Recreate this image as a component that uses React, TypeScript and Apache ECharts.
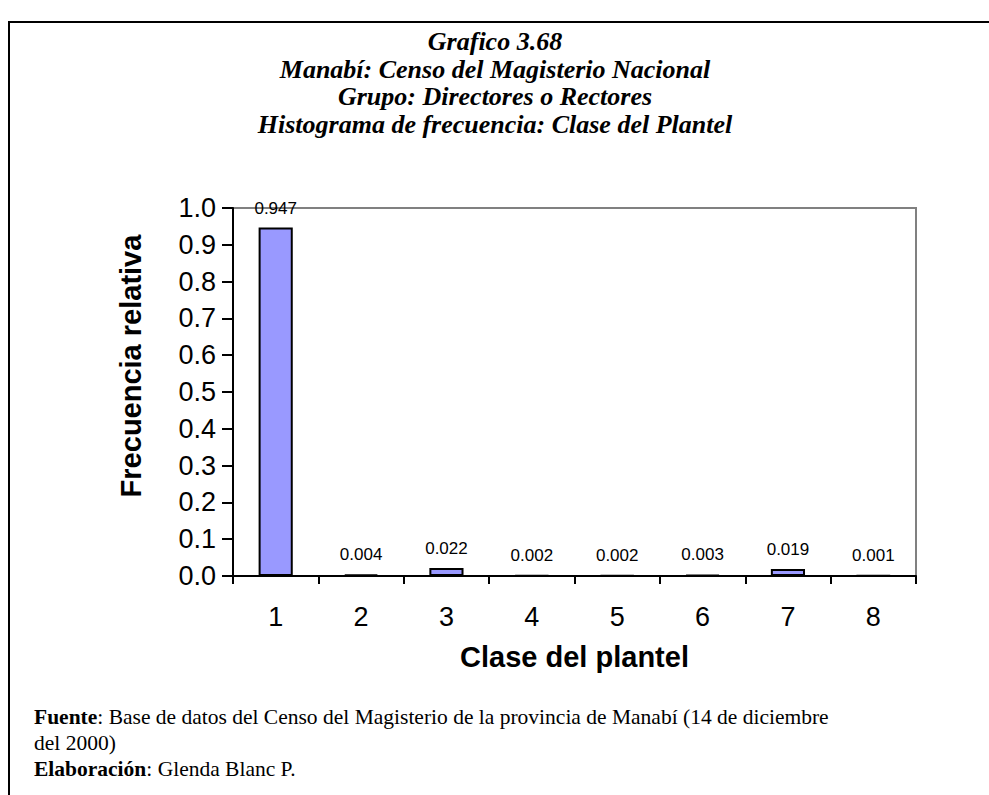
import React, { useEffect, useRef } from "react";
import * as echarts from "echarts";

const categories = ["1", "2", "3", "4", "5", "6", "7", "8"];
const values = [0.947, 0.004, 0.022, 0.002, 0.002, 0.003, 0.019, 0.001];
const titleLines = [
  "Grafico 3.68",
  "Manabí: Censo del Magisterio Nacional",
  "Grupo: Directores o Rectores",
  "Histograma de frecuencia: Clase del Plantel",
];
const yAxisTitle = "Frecuencia relativa";
const xAxisTitle = "Clase del plantel";

export default function App() {
  const ref = useRef<HTMLDivElement>(null);
  useEffect(() => {
    document.body.style.margin = "0";
    const chart = echarts.init(ref.current!, null, { renderer: "svg" });
    chart.setOption({
      animation: false,
      backgroundColor: "#fff",
      title: {
        text: titleLines.join("\n"),
        left: 490,
        textAlign: "center",
        top: 23,
        textStyle: {
          fontFamily: "Liberation Serif",
          fontStyle: "italic",
          fontWeight: "bold",
          fontSize: 26,
          lineHeight: 27.5,
          color: "#000",
        },
      },
      grid: {
        left: 233,
        right: 73,
        top: 208,
        bottom: 219,
        show: true,
        borderColor: "#808080",
        borderWidth: 2,
      },
      xAxis: {
        type: "category",
        data: categories,
        name: xAxisTitle,
        nameLocation: "middle",
        nameGap: 66,
        nameTextStyle: { fontFamily: "Liberation Sans", fontWeight: "bold", fontSize: 29, color: "#000" },
        axisLine: { lineStyle: { color: "#000", width: 2 } },
        axisTick: { show: true, length: 8, lineStyle: { color: "#000", width: 2 } },
        axisLabel: { fontFamily: "Liberation Sans", fontSize: 27, color: "#000", margin: 27 },
      },
      yAxis: {
        type: "value",
        min: 0,
        max: 1,
        interval: 0.1,
        axisLine: { show: true, lineStyle: { color: "#000", width: 2 } },
        axisTick: { show: true, length: 11, lineStyle: { color: "#000", width: 2 } },
        splitLine: { show: false },
        axisLabel: {
          fontFamily: "Liberation Sans",
          fontSize: 27,
          color: "#000",
          margin: 17,
          padding: [7, 0, 0, 0],
          formatter: (v: number) => v.toFixed(1),
        },
      },
      series: [
        {
          type: "bar",
          data: values,
          barWidth: "40%",
          itemStyle: { color: "#9999FF", borderColor: "#000", borderWidth: 2 },
          label: {
            show: true,
            position: "top",
            distance: 11,
            fontFamily: "Liberation Sans",
            fontSize: 17,
            color: "#000",
            formatter: (p: any) => p.value.toFixed(3),
          },
        },
      ],
      graphic: [
        {
          type: "rect",
          shape: { x: 9, y: 22, width: 1000, height: 800 },
          style: { fill: "none", stroke: "#000", lineWidth: 2 },
          silent: true,
        },
        {
          type: "text",
          x: 131,
          y: 366,
          rotation: Math.PI / 2,
          style: {
            text: yAxisTitle,
            fontFamily: "Liberation Sans",
            fontWeight: "bold",
            fontSize: 29,
            fill: "#000",
            align: "center",
            verticalAlign: "middle",
          },
        },
        {
          type: "text",
          left: 34,
          top: 704,
          style: {
            text: "{b|Fuente}: Base de datos del Censo del Magisterio de la provincia de Manabí (14 de diciembre\ndel 2000)\n{b|Elaboración}: Glenda Blanc P.",
            fontFamily: "Liberation Serif",
            fontSize: 21.5,
            lineHeight: 26,
            fill: "#000",
            rich: {
              b: { fontFamily: "Liberation Serif", fontSize: 21.5, lineHeight: 26, fontWeight: "bold", fill: "#000" },
            },
          },
        },
      ],
    });
    return () => chart.dispose();
  }, []);
  return <div ref={ref} style={{ position: "absolute", left: 0, top: 0, width: 989, height: 795 }} />;
}
